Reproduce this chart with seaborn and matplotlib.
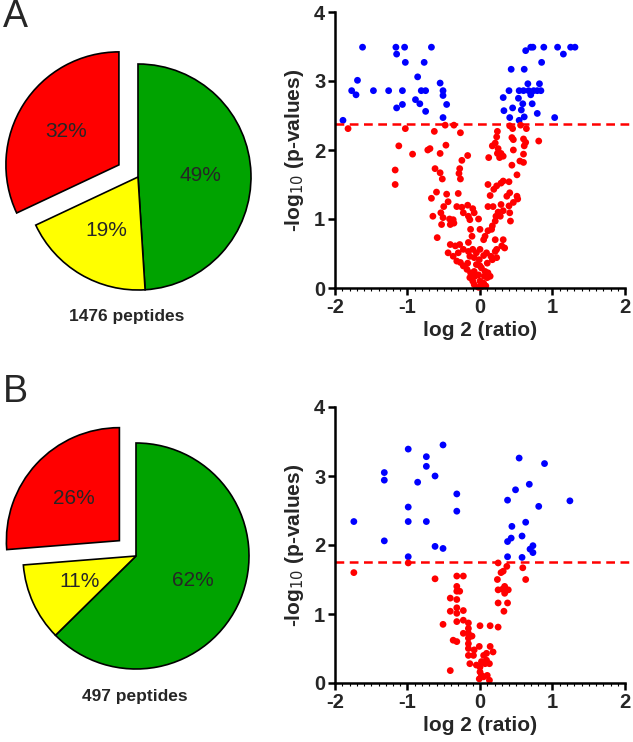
import numpy as np
import pandas as pd
import matplotlib.pyplot as plt
import seaborn as sns

# pie data
pie_labels = ['green', 'yellow', 'red']
pie_colors = ['#00A300', '#FFFF00', '#FF0000']
pie_a = [49, 19, 32]
pie_b = [62, 11, 26]
pie_a_text = ['49%', '19%', '32%']
pie_b_text = ['62%', '11%', '26%']

# volcano A: significant (blue)
a_sig_x = [-1.62, -1.16, -1.04, -0.67, -1.15, -1.03, -0.77, -0.86, -1.69, -1.77, -1.71, -1.47,
           -1.26, -1.07, -0.81, -0.75, -0.55, -0.51, -0.51, -0.46, -1.15, -1.07, -0.89, -0.83,
           -0.75, -0.51, -1.89,
           0.63, 0.70, 0.73, 0.88, 1.07, 1.15, 1.25, 1.31, 0.43, 0.61, 0.85, 0.32, 0.40, 0.54,
           0.60, 0.67, 0.74, 0.79, 0.84, 0.66, 0.82, 0.53, 0.70, 0.59, 0.72, 0.45, 0.33, 0.57,
           0.79, 0.41, 0.61, 0.54, 1.03]
a_sig_y = [3.49, 3.49, 3.49, 3.49, 3.39, 3.27, 3.27, 3.06, 3.01, 2.86, 2.80, 2.86,
           2.86, 2.86, 2.86, 2.86, 2.97, 2.86, 2.79, 2.66, 2.61, 2.66, 2.73, 2.67,
           2.56, 2.47, 2.43,
           3.44, 3.49, 3.49, 3.49, 3.49, 3.39, 3.49, 3.49, 3.17, 3.17, 3.27, 2.76, 2.86, 2.86,
           2.86, 2.86, 2.86, 2.86, 2.86, 2.96, 2.96, 2.75, 2.80, 2.67, 2.67, 2.61, 2.57, 2.58,
           2.53, 2.47, 2.48, 2.43, 2.47]
# volcano A: not significant (red)
a_ns_x = [-1.82, -1.03, -0.36, -0.48, -0.63, -0.27, -1.12, -0.93, -0.69, -0.72, -0.55, -0.47,
          -0.17, -0.25, 0.12, 0.24, 0.23, 0.21, 0.17, 0.25, 0.24, 0.29, 0.32, 0.27, 0.41, 0.45,
          0.56, 0.64, 0.44, 0.46, 0.60, 0.63, 0.81, 0.46, 0.61, 0.60, 0.44, 0.55, 0.60,
          -1.17, -0.62, -0.55, -0.28, -1.17, -0.52, -0.29, -0.27, 0.51,
          0.40, 0.32, 0.29, 0.23, 0.19, 0.11, 0.14, 0.51, 0.52, 0.46, 0.41, 0.37,
          -0.60, -0.67, -0.46, -0.30, -0.44, -0.50, -0.54, -0.32, -0.25, -0.17, -0.23, -0.16,
          -0.10, -0.08, -0.14, -0.02, -0.65, -0.51, -0.42, -0.37, -0.53, -0.41, -0.36,
          0.11, 0.18, 0.29, 0.25, 0.22, 0.21, 0.17, 0.16, 0.11, 0.07, 0.41, 0.42, 0.40, 0.32, 0.28,
          -0.59, -0.13, -0.11, -0.16, 0.00, 0.05, 0.21, 0.32, 0.30, 0.34, 0.23,
          -0.41, -0.34, -0.28, -0.23, -0.30, -0.37, -0.44,
          -0.16, -0.10, -0.05, 0.00, -0.14, -0.08, -0.01, 0.05,
          0.09, 0.15, 0.21, 0.17, 0.10, 0.23, -0.32, -0.27, -0.23, -0.17,
          -0.18, -0.13, -0.08, -0.14, -0.07, -0.02, -0.10,
          0.02, 0.07, 0.11, 0.06, 0.10, 0.14, 0.00, 0.05, 0.02, -0.02, 0.08, -0.08, 0.00, -0.05]
a_ns_y = [2.31, 2.31, 2.36, 2.36, 2.27, 2.25, 2.06, 1.94, 2.02, 2.00, 1.95, 2.07,
          1.92, 1.85, 1.89, 2.27, 2.19, 2.10, 2.06, 2.02, 1.95, 1.95, 1.91, 1.89, 2.35, 2.31,
          2.36, 2.31, 2.18, 2.15, 2.16, 2.11, 2.13, 2.00, 2.06, 1.94, 1.78, 1.84, 1.82,
          1.71, 1.73, 1.67, 1.73, 1.50, 1.58, 1.66, 1.58, 1.64,
          1.54, 1.55, 1.52, 1.48, 1.43, 1.50, 1.34, 1.33, 1.29, 1.24, 1.38, 1.33,
          1.39, 1.30, 1.36, 1.37, 1.25, 1.18, 1.09, 1.18, 1.17, 1.20, 1.09, 1.04,
          1.15, 1.09, 0.99, 1.00, 1.04, 1.02, 1.00, 0.99, 0.92, 0.92, 0.94,
          1.18, 1.18, 1.21, 1.10, 1.04, 0.97, 0.90, 0.85, 0.83, 0.75, 1.09, 0.97, 1.19, 1.12, 1.04,
          0.73, 0.85, 0.75, 0.66, 0.85, 0.70, 0.70, 0.70, 0.61, 0.58, 0.56,
          0.63, 0.61, 0.63, 0.56, 0.51, 0.46, 0.51,
          0.53, 0.56, 0.51, 0.56, 0.46, 0.44, 0.41, 0.47,
          0.51, 0.46, 0.53, 0.41, 0.36, 0.44, 0.39, 0.37, 0.32, 0.36,
          0.27, 0.22, 0.24, 0.15, 0.17, 0.19, 0.10,
          0.29, 0.24, 0.22, 0.17, 0.15, 0.17, 0.10, 0.07, 0.02, 0.01, 0.03, 0.05, 0.32, 0.34]

# volcano B
b_sig_x = [-1.74, -1.32, -1.32, -1.32, -0.99, -0.99, -0.99, -0.99, -0.86, -0.74, -0.74, -0.74,
           -0.62, -0.51, -0.62, -0.51, -0.32, -0.32,
           0.38, 0.54, 0.49, 0.68, 0.89, 0.81, 1.24, 0.44, 0.63, 0.38, 0.43, 0.58, 0.69, 0.73,
           0.73, 0.38, 0.58]
b_sig_y = [2.34, 3.05, 2.94, 2.06, 3.39, 2.55, 2.34, 1.83, 2.91, 3.28, 3.14, 2.34,
           3.00, 3.45, 1.98, 1.95, 2.74, 2.49,
           2.65, 3.26, 2.80, 2.88, 3.18, 2.56, 2.64, 2.27, 2.33, 2.05, 2.10, 2.13, 1.94, 1.99,
           1.89, 1.83, 1.82]
b_ns_x = [-1.74, -0.99, -0.62, -0.51, -0.41, -0.41, -0.41, -0.32, -0.23,
          -0.32, -0.32, -0.32, -0.32, -0.32, -0.32, -0.23, -0.23, -0.28, -0.37, -0.32, -0.23,
          -0.16, -0.16, -0.16, -0.16, -0.16, -0.16, -0.11, -0.08, -0.16, -0.09, -0.14, -0.05,
          0.00, 0.14, -0.01, 0.05, 0.09, 0.14, 0.18, 0.02, 0.07, 0.09, 0.13, 0.00,
          0.00, 0.02, 0.05, 0.10, -0.01, 0.13, 0.25,
          0.25, 0.29, 0.24, 0.32, 0.37, 0.34, 0.25, 0.31, 0.39, 0.34, 0.25, 0.38, 0.33, 0.59, 0.63]
b_ns_y = [1.60, 1.74, 1.51, 0.85, 0.18, 1.23, 1.04, 1.55, 1.55,
          1.40, 1.33, 1.21, 1.09, 1.01, 0.89, 1.05, 0.91, 1.33, 0.62, 0.60, 0.72,
          0.87, 0.79, 0.72, 0.65, 0.57, 0.50, 0.68, 0.48, 0.40, 0.40, 0.28, 0.26,
          0.83, 0.83, 0.53, 0.40, 0.43, 0.53, 0.45, 0.31, 0.28, 0.33, 0.28, 0.23,
          0.16, 0.11, 0.09, 0.11, 0.06, 0.04, 0.81,
          1.74, 1.60, 1.50, 1.62, 1.69, 1.40, 1.35, 1.36, 1.35, 1.30, 1.16, 1.16, 1.04, 1.67, 1.50]

thr_a = 2.38
thr_b = 1.76

sns.set_theme(style='ticks')
plt.rcParams['font.family'] = ['Liberation Sans', 'DejaVu Sans']
plt.rcParams['axes.unicode_minus'] = False

fig = plt.figure(figsize=(6.33, 7.42), dpi=100)
W, H = 633, 742


def px_axes(x0, y0, x1, y1):
    # pixel box (top-left origin) -> figure axes
    return fig.add_axes([x0 / W, 1 - y1 / H, (x1 - x0) / W, (y1 - y0) / H])


def draw_pie(cx, cy, vals, texts, note, note_xy):
    r = 113
    ax = px_axes(cx - 140, cy - 140, cx + 140, cy + 140)
    wedges, labs = ax.pie(vals, colors=pie_colors, startangle=90, counterclock=False,
                          explode=[0, 0, 0.2], labels=texts, labeldistance=0.55,
                          wedgeprops=dict(edgecolor='black', linewidth=1.2))
    for t in labs:
        t.set_ha('center')
        t.set_va('center')
        t.set_fontsize(15)
    lim = 140 / r
    ax.set_xlim(-lim, lim)
    ax.set_ylim(-lim, lim)
    ax.set_aspect('equal')
    fig.text(note_xy[0] / W, 1 - note_xy[1] / H, note, ha='center', va='center',
             fontsize=12.5, fontweight='bold')


def draw_volcano(y_top, x_sig, y_sig, x_ns, y_ns, thr):
    ax = px_axes(335, y_top, 625, y_top + 276)
    df = pd.DataFrame({
        'ratio': x_sig + x_ns,
        'p': y_sig + y_ns,
        'group': ['sig'] * len(x_sig) + ['ns'] * len(x_ns),
    })
    sns.scatterplot(data=df, x='ratio', y='p', hue='group',
                    palette={'sig': '#0000FF', 'ns': '#FF0000'},
                    s=24, linewidth=0, legend=False, ax=ax, clip_on=False)
    ax.axhline(thr, color='#FF0000', linestyle=(0, (3.5, 2.2)), linewidth=1.8, clip_on=False,
               xmin=0, xmax=1.03)
    ax.set_xlim(-2, 2)
    ax.set_ylim(0, 4)
    ax.set_xticks([-2, -1, 0, 1, 2])
    ax.set_yticks([0, 1, 2, 3, 4])
    ax.set_xticks(np.arange(-2, 2.01, 0.1), minor=True)
    ax.tick_params(axis='both', which='major', length=5, width=1.8, labelsize=14.5,
                   color='black', direction='out', pad=2)
    ax.tick_params(axis='x', which='minor', length=2, width=0.8, color='black')
    for lab in ax.get_xticklabels() + ax.get_yticklabels():
        lab.set_fontweight('bold')
    ax.set_xlabel('log 2 (ratio)', fontsize=15, fontweight='bold', labelpad=3)
    ax.set_ylabel('-log$_{10}$ (p-values)', fontsize=15, fontweight='bold', labelpad=6)
    for side in ['top', 'right']:
        ax.spines[side].set_visible(False)
    for side in ['left', 'bottom']:
        ax.spines[side].set_linewidth(1.8)
        ax.spines[side].set_color('black')
    ax.patch.set_alpha(0)


draw_pie(138, 177, pie_a, pie_a_text, '1476 peptides', (127, 317))
draw_pie(136, 556, pie_b, pie_b_text, '497 peptides', (135, 697))
draw_volcano(12, a_sig_x, a_sig_y, a_ns_x, a_ns_y, thr_a)
draw_volcano(407, b_sig_x, b_sig_y, b_ns_x, b_ns_y, thr_b)

fig.text(3 / W, 1 - 17 / H, 'A', fontsize=27, ha='left', va='center')
fig.text(3 / W, 1 - 392 / H, 'B', fontsize=27, ha='left', va='center')

fig.savefig('out.png', dpi=100)
